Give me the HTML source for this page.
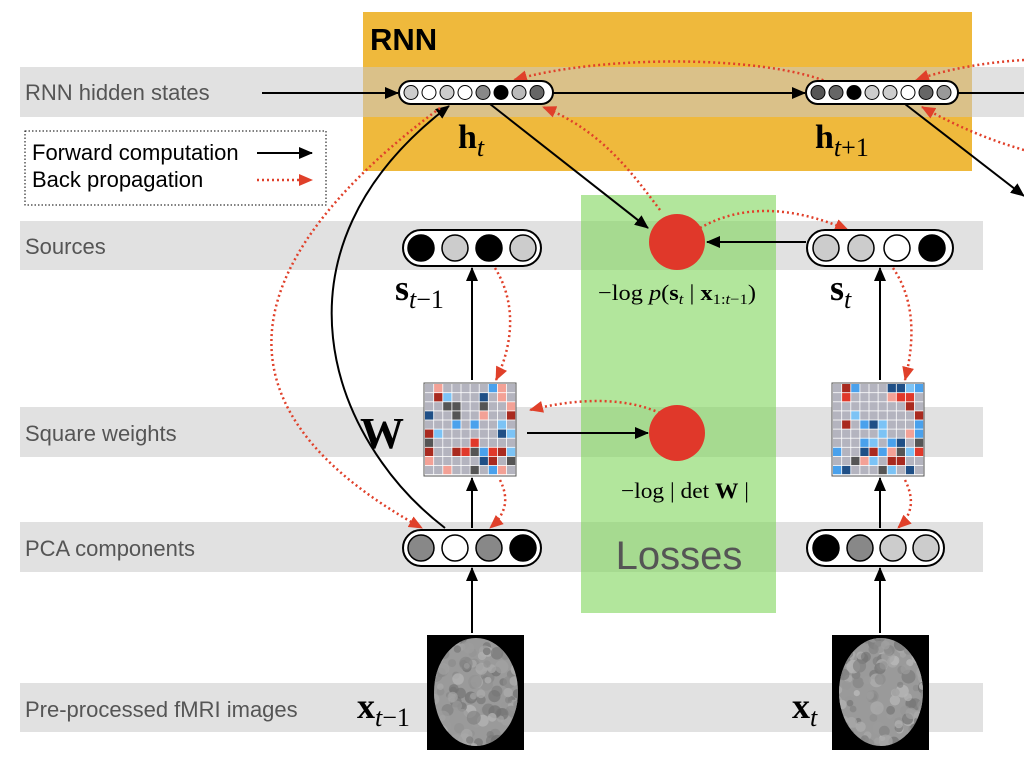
<!DOCTYPE html>
<html><head><meta charset="utf-8"><style>
body{margin:0;background:#fff;width:1024px;height:768px;overflow:hidden}
svg{display:block}
text{font-family:"Liberation Sans",sans-serif}
.s{font-family:"Liberation Serif",serif}
</style></head><body>
<svg width="1024" height="768" viewBox="0 0 1024 768">
<defs>
<marker id="ab" markerWidth="14" markerHeight="12" refX="13" refY="6" orient="auto" markerUnits="userSpaceOnUse"><path d="M0,0 L14,6 L0,12 z" fill="#000"/></marker>
<marker id="ar" markerWidth="14" markerHeight="12" refX="13" refY="6" orient="auto" markerUnits="userSpaceOnUse"><path d="M0,0 L14,6 L0,12 z" fill="#e0402a"/></marker>
<clipPath id="c1"><ellipse cx="476" cy="692" rx="42" ry="54"/></clipPath>
<clipPath id="c2"><ellipse cx="881" cy="692" rx="42" ry="54"/></clipPath>
</defs>
<rect x="363" y="12" width="609" height="159" fill="#efb93c"/>
<text x="370" y="50" font-size="31" font-weight="bold">RNN</text>
<g fill="#c8c8c8" fill-opacity="0.55">
<rect x="20" y="67" width="1004" height="50"/>
<rect x="20" y="221" width="963" height="49"/>
<rect x="20" y="407" width="963" height="50"/>
<rect x="20" y="522" width="963" height="50"/>
<rect x="20" y="683" width="963" height="49"/>
</g>
<g font-size="22" fill="#555">
<text x="25" y="100">RNN hidden states</text>
<text x="25" y="254">Sources</text>
<text x="25" y="441">Square weights</text>
<text x="25" y="556">PCA components</text>
<text x="25" y="717">Pre-processed fMRI images</text>
</g>
<rect x="581" y="195" width="195" height="418" fill="#7fd65a" fill-opacity="0.6"/>
<text x="679" y="569" font-size="40" fill="#555" text-anchor="middle">Losses</text>
<rect x="25" y="131" width="301" height="74" fill="#fff" stroke="#000" stroke-dasharray="1.5,2"/>
<text x="32" y="160" font-size="22">Forward computation</text>
<text x="32" y="187" font-size="22">Back propagation</text>
<line x1="257" y1="153" x2="312" y2="153" stroke="#000" stroke-width="2" marker-end="url(#ab)"/>
<line x1="257" y1="180" x2="312" y2="180" stroke="#e0402a" stroke-width="2.5" stroke-dasharray="2,3" marker-end="url(#ar)"/>
<g stroke="#000" stroke-width="2" fill="none">
<line x1="262" y1="93" x2="398" y2="93" marker-end="url(#ab)"/>
<line x1="553" y1="93" x2="805" y2="93" marker-end="url(#ab)"/>
<line x1="958" y1="93" x2="1024" y2="93"/>
<line x1="490" y1="104" x2="648" y2="228" marker-end="url(#ab)"/>
<line x1="905" y1="104" x2="1024" y2="196" marker-end="url(#ab)"/>
<line x1="806" y1="242" x2="707" y2="242" marker-end="url(#ab)"/>
<line x1="527" y1="433" x2="648" y2="433" marker-end="url(#ab)"/>
<line x1="472" y1="380" x2="472" y2="268" marker-end="url(#ab)"/>
<line x1="472" y1="528" x2="472" y2="478" marker-end="url(#ab)"/>
<line x1="472" y1="633" x2="472" y2="568" marker-end="url(#ab)"/>
<line x1="880" y1="380" x2="880" y2="268" marker-end="url(#ab)"/>
<line x1="880" y1="528" x2="880" y2="478" marker-end="url(#ab)"/>
<line x1="880" y1="633" x2="880" y2="568" marker-end="url(#ab)"/>
<path d="M445,528 C330,440 260,250 449,106" marker-end="url(#ab)"/>
</g>
<g stroke="#e0402a" stroke-width="2.5" stroke-dasharray="2,3" fill="none">
<path d="M828,82 C760,55 600,55 514,80" marker-end="url(#ar)"/>
<path d="M1024,60 C990,62 950,68 916,80" marker-end="url(#ar)"/>
<path d="M660,210 C630,170 600,130 543,107" marker-end="url(#ar)"/>
<path d="M1024,150 C990,140 960,128 922,107" marker-end="url(#ar)"/>
<path d="M700,228 C740,205 790,205 848,230" marker-end="url(#ar)"/>
<path d="M495,268 C515,300 515,340 496,380" marker-end="url(#ar)"/>
<path d="M893,268 C915,300 915,340 905,380" marker-end="url(#ar)"/>
<path d="M660,413 C620,395 570,400 530,410" marker-end="url(#ar)"/>
<path d="M500,480 C510,500 505,515 490,528" marker-end="url(#ar)"/>
<path d="M905,480 C915,500 912,515 898,528" marker-end="url(#ar)"/>
<path d="M440,108 C250,250 190,400 422,528" marker-end="url(#ar)"/>
</g>
<rect x="399" y="81" width="154" height="23" rx="11.5" fill="#fff" stroke="#000" stroke-width="2"/>
<g stroke="#000" stroke-width="1">
<circle cx="411" cy="92.5" r="7" fill="#ccc"/><circle cx="429" cy="92.5" r="7" fill="#fff"/><circle cx="447" cy="92.5" r="7" fill="#ccc"/><circle cx="465" cy="92.5" r="7" fill="#fff"/><circle cx="483" cy="92.5" r="7" fill="#888"/><circle cx="501" cy="92.5" r="7" fill="#000"/><circle cx="519" cy="92.5" r="7" fill="#bbb"/><circle cx="537" cy="92.5" r="7" fill="#666"/>
</g>
<rect x="806" y="81" width="152" height="23" rx="11.5" fill="#fff" stroke="#000" stroke-width="2"/>
<g stroke="#000" stroke-width="1">
<circle cx="818" cy="92.5" r="7" fill="#555"/><circle cx="836" cy="92.5" r="7" fill="#666"/><circle cx="854" cy="92.5" r="7" fill="#000"/><circle cx="872" cy="92.5" r="7" fill="#ccc"/><circle cx="890" cy="92.5" r="7" fill="#ccc"/><circle cx="908" cy="92.5" r="7" fill="#fff"/><circle cx="926" cy="92.5" r="7" fill="#666"/><circle cx="944" cy="92.5" r="7" fill="#999"/>
</g>
<text x="458" y="148" class="s" font-size="34" font-weight="bold">h<tspan font-weight="normal" font-style="italic" font-size="26" dy="8">t</tspan></text>
<text x="815" y="148" class="s" font-size="34" font-weight="bold">h<tspan font-weight="normal" font-style="italic" font-size="26" dy="8">t</tspan><tspan font-weight="normal" font-size="26">+1</tspan></text>
<rect x="403" y="230" width="138" height="36" rx="18" fill="#fff" stroke="#000" stroke-width="2"/>
<g stroke="#000" stroke-width="1.5"><circle cx="421" cy="248" r="13" fill="#000"/><circle cx="455" cy="248" r="13" fill="#ccc"/><circle cx="489" cy="248" r="13" fill="#000"/><circle cx="523" cy="248" r="13" fill="#ccc"/></g>
<rect x="807" y="230" width="146" height="36" rx="18" fill="#fff" stroke="#000" stroke-width="2"/>
<g stroke="#000" stroke-width="1.5"><circle cx="826" cy="248" r="13" fill="#ccc"/><circle cx="861" cy="248" r="13" fill="#ccc"/><circle cx="897" cy="248" r="13" fill="#fff"/><circle cx="932" cy="248" r="13" fill="#000"/></g>
<text x="395" y="300" class="s" font-size="36" font-weight="bold">s<tspan font-weight="normal" font-style="italic" font-size="26" dy="8">t</tspan><tspan font-weight="normal" font-size="26">−1</tspan></text>
<text x="830" y="300" class="s" font-size="36" font-weight="bold">s<tspan font-weight="normal" font-style="italic" font-size="26" dy="8">t</tspan></text>
<rect x="403" y="530" width="138" height="36" rx="18" fill="#fff" stroke="#000" stroke-width="2"/>
<g stroke="#000" stroke-width="1.5"><circle cx="421" cy="548" r="13" fill="#888"/><circle cx="455" cy="548" r="13" fill="#fff"/><circle cx="489" cy="548" r="13" fill="#888"/><circle cx="523" cy="548" r="13" fill="#000"/></g>
<rect x="807" y="530" width="137" height="36" rx="18" fill="#fff" stroke="#000" stroke-width="2"/>
<g stroke="#000" stroke-width="1.5"><circle cx="826" cy="548" r="13" fill="#000"/><circle cx="860" cy="548" r="13" fill="#888"/><circle cx="893" cy="548" r="13" fill="#ccc"/><circle cx="926" cy="548" r="13" fill="#ccc"/></g>
<circle cx="677" cy="242" r="28" fill="#e0382a"/>
<circle cx="677" cy="433" r="28" fill="#e0382a"/>
<text x="598" y="300" class="s" font-size="22" textLength="158" lengthAdjust="spacingAndGlyphs">−log <tspan font-style="italic">p</tspan>(<tspan font-weight="bold">s</tspan><tspan font-style="italic" font-size="15" dy="4">t</tspan><tspan dy="-4"> | </tspan><tspan font-weight="bold">x</tspan><tspan font-size="15" dy="4">1:<tspan font-style="italic">t</tspan>−1</tspan><tspan dy="-4">)</tspan></text>
<text x="621" y="498" class="s" font-size="22" textLength="128" lengthAdjust="spacingAndGlyphs">−log | det <tspan font-weight="bold">W</tspan> |</text>
<text x="360" y="448" class="s" font-size="44" font-weight="bold">W</text>
<g id="m1"></g><g id="m2"></g>
<rect x="427" y="635" width="97" height="115" fill="#000"/>
<ellipse cx="476" cy="692" rx="42" ry="54" fill="#9a9a9a"/>
<g id="b1" clip-path="url(#c1)"></g>
<rect x="832" y="635" width="97" height="115" fill="#000"/>
<ellipse cx="881" cy="692" rx="42" ry="54" fill="#9a9a9a"/>
<g id="b2" clip-path="url(#c2)"></g>
<text x="357" y="718" class="s" font-size="36" font-weight="bold">x<tspan font-weight="normal" font-style="italic" font-size="26" dy="8">t</tspan><tspan font-weight="normal" font-size="26">−1</tspan></text>
<text x="792" y="718" class="s" font-size="36" font-weight="bold">x<tspan font-weight="normal" font-style="italic" font-size="26" dy="8">t</tspan></text>
</svg>
<script>
var cols=["#b4b4bf","#b4b4bf","#b4b4bf","#b4b4bf","#b4b4bf","#b4b4bf","#b4b4bf","#b4b4bf","#f3a196","#7cc3f5","#1f4f86","#a92a1f","#e0382a","#4aa1ec","#555"];
var s=7;function r(){s=(s*9301+49297)%233280;return s/233280;}
function mk(id,x0,y0){var g=document.getElementById(id),h='<rect x="'+x0+'" y="'+y0+'" width="92" height="93" fill="#fff" stroke="#555"/>';
for(var i=0;i<10;i++)for(var j=0;j<10;j++){var c=cols[Math.floor(r()*cols.length)];
h+='<rect x="'+(x0+1+j*9.1)+'" y="'+(y0+1+i*9.1)+'" width="8.3" height="8.3" fill="'+c+'"/>';}
g.innerHTML=h;}
mk("m1",424,383);mk("m2",832,383);
function br(id,cx,cy){var g=document.getElementById(id),h='';
for(var k=0;k<140;k++){var x=cx-45+r()*90,y=cy-57+r()*114,v=Math.floor(110+r()*80);
h+='<circle cx="'+x.toFixed(1)+'" cy="'+y.toFixed(1)+'" r="'+(3+r()*4).toFixed(1)+'" fill="rgb('+v+','+v+','+v+')" opacity="0.7"/>';}
g.innerHTML=h;}
br("b1",476,692);br("b2",881,692);
</script>
</body></html>
